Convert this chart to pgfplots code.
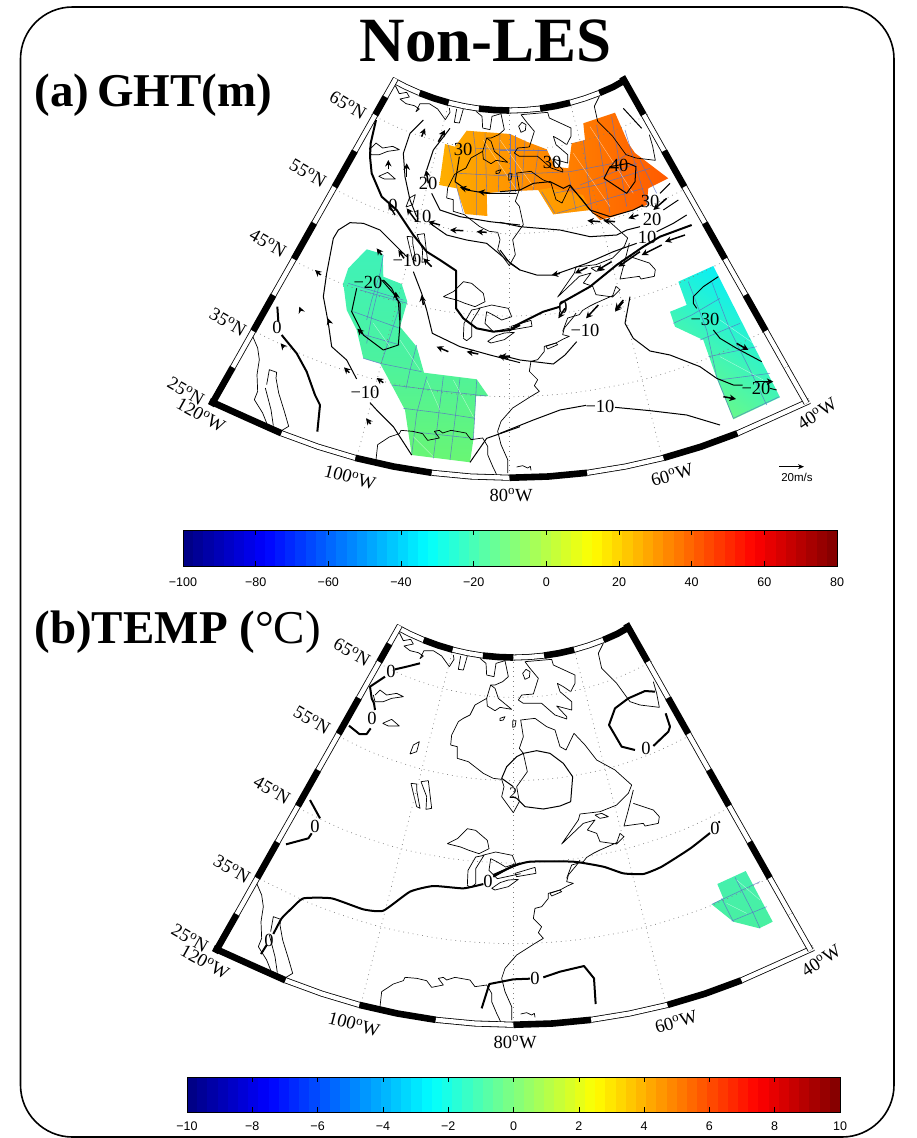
\documentclass[border=0pt]{standalone}
\usepackage{pgfplots}
\pgfplotsset{compat=1.18}
\usepackage{fontspec}
\setmainfont{Liberation Serif}
\newfontfamily\hv{Liberation Sans}
\usetikzlibrary{arrows.meta}
\pgfplotsforeachungrouped \i in {0,...,63}{%
 \pgfmathsetmacro\jv{(\i+0.5)/64}%
 \pgfmathsetmacro\jr{max(0,min(1,min(4*\jv-1.5,4.5-4*\jv)))}%
 \pgfmathsetmacro\jg{max(0,min(1,min(4*\jv-0.5,3.5-4*\jv)))}%
 \pgfmathsetmacro\jb{max(0,min(1,min(4*\jv+0.5,2.5-4*\jv)))}%
 \definecolor{jet\i}{rgb}{\jr,\jg,\jb}%
}
\definecolor{gridblue}{RGB}{90,110,200}
\definecolor{gA}{RGB}{62,242,185}
\definecolor{gB}{RGB}{75,242,160}
\definecolor{gC}{RGB}{105,246,115}
\definecolor{oA}{RGB}{255,175,0}
\definecolor{oB}{RGB}{255,125,0}
\definecolor{oC}{RGB}{255,90,0}
\definecolor{cA}{RGB}{0,238,255}
\definecolor{cB}{RGB}{110,250,130}
\definecolor{bA}{RGB}{70,240,175}
\definecolor{bB}{RGB}{72,240,160}
\def\dx{0}\def\dy{0}
\newcommand\lf{\fontsize{18.5}{20}\selectfont}
\pgfplotsset{
 zm/.style 2 args={x filter/.expression={#1+x/3+\dx}, y filter/.expression={#2+y/3+\dy}},
 mp/.style={x filter/.expression={x+\dx}, y filter/.expression={y+\dy}},
 coast/.style={black,line width=0.7pt,line join=round},
 thin c/.style={black,line width=1pt,line join=round},
 thick c/.style={black,line width=2pt,line join=round},
 grat/.style={gray,line width=0.7pt,dash pattern=on 0.8pt off 4pt},
 gl/.style={gridblue,line width=0.55pt,opacity=0.8},
 wl/.style={white,line width=0.35pt,opacity=0.6},
 vec/.style={black,line width=1.5pt,-{Stealth[length=6.5pt,width=6.5pt]}},
 bb/.style={black,line width=6.6pt},
 bo/.style={black,line width=6pt},
 wi/.style={white,line width=4.4pt},
}
\newcommand\wbar[1]{\addplot[bo,mp] coordinates {#1};\addplot[wi,mp] coordinates {#1};}
\newcommand\bbar[1]{\addplot[bb,mp] coordinates {#1};}
\newcommand\mapbase{%
 \addplot[grat,mp,smooth] coordinates {(251.4,329.7)(310.7,358.1)(376.2,379.7)(444.8,392.7)(509.5,396.7)(574.2,392.7)(642.8,379.7)(708.3,358.1)(767.6,329.7)};
 \addplot[grat,mp,smooth] coordinates {(290.7,259.2)(340.9,283.2)(396.5,301.6)(454.6,312.6)(509.5,316)(564.4,312.6)(622.5,301.6)(678.1,283.2)(728.3,259.2)};
 \addplot[grat,mp,smooth] coordinates {(330.7,187.3)(371.8,206.9)(417.1,221.9)(464.7,230.9)(509.5,233.7)(554.3,230.9)(601.9,221.9)(647.2,206.9)(688.3,187.3)};
 \addplot[grat,mp,smooth] coordinates {(371.2,114.5)(403,129.7)(438.1,141.3)(474.8,148.3)(509.5,150.4)(544.2,148.3)(580.9,141.3)(616,129.7)(647.8,114.5)};
 \addplot[grat,mp] coordinates {(449,102)(357,457)};
 \addplot[grat,mp] coordinates {(509.5,110)(509.5,477)};
 \addplot[grat,mp] coordinates {(570,102)(662,457)};
}
\newcommand\mapframe{%
 \bbar{(209.6,401.0)(245.9,417.4)(281.5,433.3)}
 \wbar{(281.5,433.3)(318.0,446.7)(355.4,457.9)}
 \bbar{(355.4,457.9)(393.4,466.5)(431.8,472.8)}
 \wbar{(431.8,472.8)(470.6,476.5)(509.5,477.75)}
 \bbar{(509.5,477.75)(548.4,476.5)(587.2,472.8)}
 \wbar{(587.2,472.8)(625.6,466.5)(663.6,457.9)}
 \bbar{(663.6,457.9)(701.0,446.7)(737.5,433.3)}
 \wbar{(737.5,433.3)(773.1,417.4)(809.4,401.0)}
 \wbar{(392.0,79.7)(405.6,86.8)(419.6,93.0)}
 \bbar{(419.6,93.0)(434.0,98.3)(448.7,102.7)}
 \wbar{(448.7,102.7)(463.7,106.1)(478.9,108.6)}
 \bbar{(478.9,108.6)(494.2,110)(509.5,110.55)}
 \wbar{(509.5,110.55)(524.8,110)(540.1,108.6)}
 \bbar{(540.1,108.6)(555.3,106.1)(570.3,102.7)}
 \wbar{(570.3,102.7)(585.0,98.3)(599.4,93.0)}
 \bbar{(599.4,93.0)(613.4,86.8)(626.5,79.3)}
 \bbar{(211.0,405.6)(232.8,367.2)}
 \wbar{(232.8,367.2)(253.2,331.0)}
 \bbar{(253.2,331.0)(273.5,295.0)}
 \wbar{(273.5,295.0)(293.9,259.0)}
 \bbar{(293.9,259.0)(314.2,223.0)}
 \wbar{(314.2,223.0)(334.6,186.9)}
 \bbar{(334.6,186.9)(354.9,150.9)}
 \wbar{(354.9,150.9)(375.3,114.8)}
 \bbar{(375.3,114.8)(385.5,96.7)}
 \wbar{(385.5,96.7)(395.7,78.7)}
 \bbar{(622.2,76.8)(643.7,114.8)}
 \wbar{(643.7,114.8)(664.1,150.9)}
 \bbar{(664.1,150.9)(684.4,186.9)}
 \wbar{(684.4,186.9)(704.8,223.0)}
 \bbar{(704.8,223.0)(725.1,259.0)}
 \wbar{(725.1,259.0)(745.5,295.0)}
 \bbar{(745.5,295.0)(765.8,331.0)}
 \wbar{(765.8,331.0)(786.2,367.2)}
 \wbar{(786.2,367.2)(806.6,403.2)}
}
\newcommand\maplabels[2]{%
 \node[font=\lf,rotate=-30] at (axis cs:#1+348,#2+105) {65\textsuperscript{o}N};
 \node[font=\lf,rotate=-30] at (axis cs:#1+308,#2+173) {55\textsuperscript{o}N};
 \node[font=\lf,rotate=-30] at (axis cs:#1+268,#2+243) {45\textsuperscript{o}N};
 \node[font=\lf,rotate=-30] at (axis cs:#1+228,#2+322) {35\textsuperscript{o}N};
 \node[font=\lf,rotate=-30] at (axis cs:#1+186,#2+391) {25\textsuperscript{o}N};
 \node[font=\lf,rotate=-29] at (axis cs:#1+201,#2+415) {120\textsuperscript{o}W};
 \node[font=\lf,rotate=-15] at (axis cs:#1+350,#2+477) {100\textsuperscript{o}W};
 \node[font=\lf] at (axis cs:#1+511,#2+495) {80\textsuperscript{o}W};
 \node[font=\lf,rotate=16] at (axis cs:#1+672,#2+475) {60\textsuperscript{o}W};
 \node[font=\lf,rotate=33] at (axis cs:#1+817,#2+414) {40\textsuperscript{o}W};
}
\newcommand\coastlines{%
 \addplot[coast,zm={200}{620}] coordinates {(598,38)(610,62)(632,58)(640,72)(612,78)(630,92)(655,98)(670,108)(660,116)(672,92)(700,92)(725,108)(748,140)(762,118)(760,105)};
 \addplot[coast,zm={200}{620}] coordinates {(782,108)(775,148)(790,150)(802,108)};
 \addplot[coast,zm={200}{620}] coordinates {(840,115)(858,130)(860,165)(882,170)(888,130)(915,122)(925,170)(908,185)(885,195)(872,195)(860,235)(825,255)(810,285)(790,295)(775,305)(755,345)(752,375)(772,380)(772,415)(805,425)(850,460)(880,475)(905,478)};
 \addplot[coast,zm={200}{620}] coordinates {(872,195)(885,205)(895,235)(935,268)(900,262)(885,272)(862,258)(860,235)};
 \addplot[coast,zm={500}{620}] coordinates {(5,478)(12,500)(5,530)(40,578)(58,545)(50,500)(82,455)(70,400)(58,385)(70,350)(62,300)(105,295)(140,320)(165,330)(180,380)(198,390)(222,340)(255,375)(290,420)(345,450)(395,495)(385,520)(350,555)(300,575)(240,582)(235,600)(185,672)(250,610)(285,600)(262,630)(290,640)(300,665)(350,672)(372,650)(360,640)(350,668)(300,690)(280,700)(260,712)(250,725)(215,735)(200,775)};
 \addplot[coast,zm={500}{620}] coordinates {(75,125)(155,118)(160,135)(225,165)(225,190)(212,215)(190,200)(172,190)(180,215)(215,245)(215,270)(170,258)(200,290)(200,297)(165,285)(125,250)(70,250)(55,240)(65,225)(100,222)(115,175)(90,145)(75,125)};
 \addplot[coast,zm={500}{620}] coordinates {(68,160)(78,148)(90,155)(88,172)(75,178)(68,160)};
 \addplot[coast,zm={500}{620}] coordinates {(310,70)(295,100)(305,145)(350,190)(390,245)(420,255)(478,262)(470,220)(460,185)};
 \addplot[coast,zm={500}{620}] coordinates {(0,295)(15,290)(10,300)(0,302)(0,295)};
 \addplot[coast,zm={500}{620}] coordinates {(38,302)(48,302)(45,320)(38,322)(38,302)};
 \addplot[coast,zm={500}{620}] coordinates {(400,510)(385,570)(372,618)(430,610)(435,618)(475,610)(478,590)(460,570)(400,550)};
 \addplot[coast,zm={500}{620}] coordinates {(285,585)(305,580)(325,590)(300,595)(285,585)};
 \addplot[coast,zm={200}{620}] coordinates {(525,225)(540,210)(560,225)(590,220)(610,230)(575,235)(550,245)(525,245)(520,225)};
 \addplot[coast,zm={200}{620}] coordinates {(548,310)(575,298)(598,318)(565,318)(548,310)};
 \addplot[coast,zm={200}{620}] coordinates {(630,402)(640,375)(658,365)(650,395)(630,402)};
 \addplot[coast,zm={200}{620}] coordinates {(633,490)(650,492)(650,510)(660,565)(650,560)(640,520)(633,490)};
 \addplot[coast,zm={200}{620}] coordinates {(663,485)(685,482)(692,540)(695,565)(678,568)(680,530)(663,485)};
 \addplot[coast,zm={204}{827}] coordinates {(730,50)(760,35)(790,5)(815,10)(850,40)(855,65)(825,80)(795,70)(770,60)(730,50)};
 \addplot[coast,zm={204}{827}] coordinates {(790,175)(792,130)(815,90)(840,85)(815,125)(815,170)(800,182)(790,175)};
 \addplot[coast,zm={204}{827}] coordinates {(835,85)(875,75)(925,85)(935,110)(905,120)(880,105)(860,95)(855,130)(880,155)(950,140)};
 \addplot[coast,zm={480}{860}] coordinates {(35,85)(60,68)(85,60)(115,58)(85,80)(45,90)(35,85)};
 \addplot[coast,zm={480}{860}] coordinates {(105,40)(165,22)(168,40)(110,50)(105,40)};
 \addplot[coast,zm={480}{860}] coordinates {(95,480)(95,440)(75,395)(65,355)(75,325)(110,285)(165,250)(190,235)(175,218)(185,200)(160,175)(165,145)(185,140)(205,115)(205,100)(240,90)(262,78)(280,70)(260,65)(265,45)(290,15)(300,0)};
 \addplot[coast,zm={480}{860}] coordinates {(210,100)(240,90)(245,95)(215,108)(210,100)};
 \addplot[coast,zm={480}{860}] coordinates {(122,462)(140,458)(155,465)(163,460)(165,472)};
 \addplot[coast,zm={160}{860}] coordinates {(660,440)(665,395)(700,372)(730,362)(735,352)(770,355)(800,362)(815,382)(850,375)(835,355)(850,352)(860,360)(885,352)(930,360)(945,380)(980,375)(995,400)(995,425)(1010,460)(1022,485)};
 \addplot[coast,zm={160}{860}] coordinates {(290,70)(305,105)(310,140)(303,185)(305,235)(295,260)(320,300)(332,330)};
 \addplot[coast,zm={160}{860}] coordinates {(332,215)(340,170)(362,178)(360,195)(368,240)(385,295)(398,340)(378,352)};
 \addplot[coast,zm={160}{860}] coordinates {(328,225)(345,290)(352,338)};
}
\begin{document}
\begin{tikzpicture}
\begin{axis}[
 width=916pt,height=1138pt,scale only axis,
 xmin=0,xmax=916,ymin=0,ymax=1138,y dir=reverse,
 hide axis,clip=false,enlargelimits=false]

\path (axis cs:0,0) rectangle (axis cs:916,1138);
\draw[black,line width=1.6pt,rounded corners=52pt] (axis cs:20.5,7) rectangle (axis cs:894,1137);

\node[font=\bfseries\fontsize{63}{63}\selectfont] at (axis cs:486,41) {Non-LES};
\node[anchor=west,font=\bfseries\fontsize{47}{47}\selectfont] at (axis cs:31,95) {(a)\,GHT(m)};
\node[anchor=west,font=\fontsize{47}{47}\selectfont] at (axis cs:31,632) {\textbf{(b)TEMP (}°C)};

% panel (a) fields
\def\dx{0}\def\dy{0}
\addplot[draw=none,top color=gA,bottom color=gC,middle color=gB] coordinates {(366.7,249.3)(382.7,254)(383.3,276.7)(401.7,284)(407.3,301.7)(400,326.7)(416.7,346.7)(424,372.7)(476.7,379.3)(488.3,396)(476,396)(473.3,440)(470,462.3)(411.7,455)(405,410)(391.7,385)(380,363.3)(363.3,358.3)(356.7,330)(346.7,310)(343.3,283.3)(348.3,268.3)} --cycle;
\addplot[draw=none,left color=oA,middle color=oB,right color=oC] coordinates {(445,144)(455,146.7)(466.7,130.7)(510,134)(526.7,141.7)(546.7,149.3)(555,166.7)(568.3,168.3)(571.7,143.3)(585,140)(583.3,123.3)(615,112.7)(628.3,143.3)(635,153)(668.3,178.3)(648.3,188.3)(646.7,205)(613,216.7)(600,220)(590,210)(553.3,214.3)(538.3,190)(500,191.7)(486.7,193.3)(487.3,216)(465,214)(456.7,188.3)(439.3,185)} --cycle;
\addplot[draw=none,fill=oA,fill opacity=0.55] coordinates {(538.3,190)(553.3,214.3)(590,210)(583,195)(550,188)} --cycle;
\addplot[draw=none,bottom color=cB,top color=cA,shading angle=-35] coordinates {(713.3,266)(678.3,281.7)(686.7,305)(670,311.7)(675,326.7)(703.3,340)(716.7,378.3)(733.3,419.3)(780,397.3)} --cycle;

\addplot[gl,zm={200}{280}] coordinates {(540,5)(515,110)(500,190)};
\addplot[gl,zm={200}{280}] coordinates {(600,75)(570,170)(545,245)};
\addplot[gl,zm={200}{280}] coordinates {(650,195)(630,270)(618,325)};
\addplot[gl,zm={200}{280}] coordinates {(680,290)(650,400)(635,525)};
\addplot[gl,zm={200}{280}] coordinates {(730,290)(700,535)};
\addplot[gl,zm={200}{280}] coordinates {(780,295)(750,540)};
\addplot[gl,zm={200}{280}] coordinates {(830,300)(820,480)};
\addplot[gl,zm={200}{280}] coordinates {(480,30)(622,70)};
\addplot[gl,zm={200}{280}] coordinates {(460,95)(600,145)};
\addplot[gl,zm={200}{280}] coordinates {(478,160)(600,195)};
\addplot[gl,zm={200}{280}] coordinates {(490,235)(540,250)(665,275)};
\addplot[gl,zm={200}{280}] coordinates {(575,315)(700,330)(860,348)};
\addplot[gl,zm={200}{280}] coordinates {(610,385)(730,400)(825,415)};
\addplot[gl,zm={200}{280}] coordinates {(635,455)(820,475)};
\addplot[gl,zm={200}{60}] coordinates {(550,585)(540,640)(515,720)(500,780)};
\addplot[gl,zm={200}{60}] coordinates {(445,670)(610,720)};
\addplot[wl,zm={200}{280}] coordinates {(600,180)(660,270)};
\addplot[wl,zm={200}{280}] coordinates {(680,300)(720,390)};
\addplot[wl,zm={200}{280}] coordinates {(760,300)(820,410)};
\addplot[wl,zm={200}{280}] coordinates {(640,470)(700,530)};
\addplot[wl,zm={200}{280}] coordinates {(520,130)(570,200)};
\addplot[gl,zm={200}{60}] coordinates {(745,255)(770,380)(790,460)};
\addplot[gl,zm={200}{60}] coordinates {(820,215)(830,300)(830,465)};
\addplot[gl,zm={200}{60}] coordinates {(855,220)(860,395)};
\addplot[gl,zm={200}{60}] coordinates {(900,225)(895,395)};
\addplot[gl,zm={200}{60}] coordinates {(945,225)(945,395)};
\addplot[gl,zm={200}{60}] coordinates {(775,340)(870,345)(960,350)};
\addplot[gl,zm={200}{60}] coordinates {(830,265)(960,270)};
\addplot[gl,zm={500}{60}] coordinates {(30,222)(30,395)};
\addplot[gl,zm={500}{60}] coordinates {(75,240)(65,395)};
\addplot[gl,zm={500}{60}] coordinates {(115,270)(100,390)};
\addplot[gl,zm={500}{60}] coordinates {(125,395)(165,460)};
\addplot[gl,zm={500}{60}] coordinates {(205,340)(228,450)};
\addplot[gl,zm={500}{60}] coordinates {(250,240)(275,450)};
\addplot[gl,zm={500}{60}] coordinates {(290,195)(330,460)};
\addplot[gl,zm={500}{60}] coordinates {(335,170)(380,440)};
\addplot[gl,zm={500}{60}] coordinates {(375,210)(440,430)};
\addplot[gl,zm={500}{60}] coordinates {(420,300)(470,400)};
\addplot[gl,zm={500}{60}] coordinates {(0,270)(140,270)};
\addplot[gl,zm={500}{60}] coordinates {(0,345)(210,335)(340,310)(385,280)};
\addplot[gl,zm={500}{60}] coordinates {(240,375)(410,310)};
\addplot[gl,zm={500}{60}] coordinates {(160,400)(290,375)(450,325)};
\addplot[gl,zm={500}{60}] coordinates {(170,460)(430,385)};
\addplot[wl,zm={500}{60}] coordinates {(270,200)(400,400)};
\addplot[wl,zm={500}{60}] coordinates {(220,280)(330,440)};
\addplot[wl,zm={200}{60}] coordinates {(850,240)(950,390)};
\addplot[wl,zm={500}{60}] coordinates {(0,240)(100,380)};
\addplot[gl,zm={500}{280}] coordinates {(565,5)(620,150)(650,290)(700,415)};
\addplot[gl,zm={500}{280}] coordinates {(635,5)(690,150)(750,270)(800,375)};
\addplot[gl,zm={500}{280}] coordinates {(660,55)(575,105)(520,130)};
\addplot[gl,zm={500}{280}] coordinates {(720,130)(600,180)};
\addplot[gl,zm={500}{280}] coordinates {(770,200)(625,230)};
\addplot[gl,zm={500}{280}] coordinates {(810,280)(655,300)};
\addplot[gl,zm={500}{280}] coordinates {(838,350)(700,415)};
\addplot[wl,zm={500}{280}] coordinates {(660,120)(760,190)};
\addplot[wl,zm={500}{280}] coordinates {(660,230)(790,300)};

\def\dx{-4}\def\dy{-547}
\coastlines
\def\dx{0}\def\dy{0}
\mapbase
\maplabels{0}{0}

\addplot[thick c,zm={200}{60}] coordinates {(528,180)(512,250)(510,290)(515,340)(545,410)(590,450)(640,525)(680,575)(720,600)(768,632)(768,745)(790,775)(830,805)(880,815)(930,810)(960,795)};
\addplot[thick c,zm={500}{280}] coordinates {(40,140)(50,135)(130,95)(180,80)};
\addplot[thick c,zm={500}{60}] coordinates {(180,732)(190,725)(270,680)(350,615)(430,560)(480,530)(575,495)};
\addplot[thick c,zm={200}{280}] coordinates {(232,80)(235,125)};
\addplot[thick c,zm={200}{280}] coordinates {(245,165)(290,220)(320,275)(345,345)(360,375)(352,455)};
\addplot[thin c,zm={200}{60}] coordinates {(620,590)(590,560)(540,510)(490,490)(450,488)(415,510)(400,535)(380,640)(370,710)(372,720)(385,790)(395,860)(440,900)(470,957)};
\addplot[thin c,zm={200}{60}] coordinates {(640,635)(665,700)(680,750)(697,820)(780,860)(870,885)(960,908)};
\addplot[thin c,zm={500}{280}] coordinates {(0,225)(60,240)(160,252)(195,225)(230,185)};
\addplot[thin c,zm={200}{280}] coordinates {(510,368)(530,390)(580,440)(635,525)};
\addplot[thin c,zm={200}{280}] coordinates {(810,547)(860,475)(960,440)};
\addplot[thin c,zm={500}{280}] coordinates {(0,460)(100,420)(180,390)(258,376)};
\addplot[thin c,zm={500}{280}] coordinates {(345,382)(450,392)(560,405)(610,420)(660,435)};
\addplot[thin c,zm={500}{280}] coordinates {(390,50)(375,130)(400,175)(450,213)(510,225)(600,260)(650,295)(700,315)(728,315)};
\addplot[thin c,zm={500}{280}] coordinates {(810,325)(830,330)};
\addplot[thin c,zm={500}{60}] coordinates {(655,650)(610,680)(580,710)(580,730)(590,745)};
\addplot[thin c,zm={500}{280}] coordinates {(640,150)(660,175)(710,205)(785,245)};
\addplot[thin c,zm={200}{280}] coordinates {(470,25)(455,95)(490,165)(550,210)(595,195)(600,130)(595,65)(575,25)(550,0)};
\addplot[thin c,zm={200}{60}] coordinates {(545,660)(580,700)(600,730)(600,780)};
\addplot[thin c,zm={200}{60}] coordinates {(670,180)(630,220)(610,280)(615,350)(630,420)(650,470)};
\addplot[thin c,zm={200}{60}] coordinates {(690,490)(740,525)(800,540)(860,550)(920,600)(960,630)};
\addplot[thin c,zm={500}{60}] coordinates {(0,570)(30,610)(60,630)(110,645)(160,645)(260,610)(340,575)(410,550)};
\addplot[thin c,zm={500}{60}] coordinates {(470,515)(520,490)(560,465)};
\addplot[thin c,zm={200}{60}] coordinates {(750,205)(700,270)(680,330)};
\addplot[thin c,zm={200}{60}] coordinates {(695,400)(720,450)(780,470)(870,485)(960,495)};
\addplot[thin c,zm={500}{60}] coordinates {(0,487)(60,500)(180,510)(270,530)(350,525)(380,510)(420,500)};
\addplot[thin c,zm={500}{60}] coordinates {(490,450)(535,420)};
\addplot[thin c,zm={200}{60}] coordinates {(778,290)(770,340)(765,365)(800,390)(860,400)(950,400)};
\addplot[thin c,zm={500}{60}] coordinates {(0,395)(60,390)(100,370)(150,365)(190,385)(210,375)(270,450)(330,470)(400,450)(430,435)};
\addplot[thin c,zm={500}{60}] coordinates {(480,400)(510,370)};
\addplot[thin c,zm={500}{60}] coordinates {(370,145)(425,205)};
\addplot[thin c,zm={500}{60}] coordinates {(330,320)(312,355)(380,400)(405,365)(408,320)(385,310)(330,320)};

\addplot[vec,zm={200}{60}] coordinates {(665,230)(675,205)};
\addplot[vec,zm={200}{60}] coordinates {(565,328)(565,300)};
\addplot[vec,zm={200}{60}] coordinates {(620,350)(620,310)};
\addplot[vec,zm={200}{60}] coordinates {(685,370)(678,330)};
\addplot[vec,zm={200}{60}] coordinates {(715,245)(735,210)};
\addplot[vec,zm={200}{60}] coordinates {(810,390)(780,382)};
\addplot[vec,zm={200}{60}] coordinates {(870,400)(835,395)};
\addplot[vec,zm={200}{60}] coordinates {(720,495)(685,485)};
\addplot[vec,zm={200}{60}] coordinates {(790,512)(750,510)};
\addplot[vec,zm={200}{60}] coordinates {(860,517)(830,515)};
\addplot[vec,zm={200}{60}] coordinates {(585,465)(565,430)};
\addplot[vec,zm={200}{60}] coordinates {(650,485)(620,445)};
\addplot[vec,zm={200}{60}] coordinates {(695,620)(670,595)};
\addplot[vec,zm={200}{60}] coordinates {(612,595)(595,570)};
\addplot[vec,zm={200}{60}] coordinates {(545,585)(530,565)};
\addplot[vec,zm={200}{60}] coordinates {(590,720)(587,695)};
\addplot[vec,zm={200}{60}] coordinates {(670,735)(665,705)};
\addplot[vec,zm={200}{60}] coordinates {(362,645)(345,630)};
\addplot[vec,zm={200}{280}] coordinates {(302,90)(298,80)};
\addplot[vec,zm={200}{280}] coordinates {(252,202)(242,190)};
\addplot[vec,zm={200}{280}] coordinates {(388,128)(384,115)};
\addplot[vec,zm={200}{280}] coordinates {(448,278)(432,262)};
\addplot[vec,zm={200}{280}] coordinates {(488,162)(472,146)};
\addplot[vec,zm={200}{280}] coordinates {(550,308)(530,294)};
\addplot[vec,zm={200}{280}] coordinates {(512,432)(498,415)};
\addplot[vec,zm={200}{280}] coordinates {(745,215)(710,200)};
\addplot[vec,zm={200}{280}] coordinates {(835,222)(800,215)};
\addplot[vec,zm={200}{280}] coordinates {(925,235)(895,228)};
\addplot[vec,zm={500}{60}] coordinates {(300,485)(262,482)};
\addplot[vec,zm={500}{60}] coordinates {(345,485)(310,482)};
\addplot[vec,zm={500}{60}] coordinates {(415,465)(385,475)};
\addplot[vec,zm={500}{60}] coordinates {(500,415)(460,450)};
\addplot[vec,zm={500}{60}] coordinates {(555,525)(495,545)};
\addplot[vec,zm={500}{60}] coordinates {(485,555)(425,585)};
\addplot[vec,zm={500}{60}] coordinates {(420,575)(355,620)};
\addplot[vec,zm={500}{60}] coordinates {(335,605)(290,632)};
\addplot[vec,zm={500}{60}] coordinates {(262,622)(225,640)};
\addplot[vec,zm={500}{60}] coordinates {(180,640)(155,645)};
\addplot[vec,zm={500}{60}] coordinates {(370,720)(345,750)};
\addplot[vec,zm={500}{60}] coordinates {(295,735)(258,775)};
\addplot[vec,zm={500}{280}] coordinates {(370,65)(345,95)};
\addplot[vec,zm={500}{280}] coordinates {(195,85)(175,115)};
\addplot[vec,zm={500}{280}] coordinates {(30,228)(0,230)};
\addplot[vec,zm={500}{280}] coordinates {(710,190)(745,210)};
\addplot[vec,zm={500}{280}] coordinates {(765,305)(820,305)};
\addplot[vec,zm={500}{280}] coordinates {(670,350)(708,357)};
\addplot[black,line width=0.9pt,-{Stealth[length=6pt,width=5pt]},zm={500}{280}] coordinates {(838,560)(912,560)};
\node[font=\hv\fontsize{11.5}{12}\selectfont] at (axis cs:797,477) {20m/s};

\node[font=\lf] at (axis cs:463,149) {30};
\node[font=\lf] at (axis cs:428,183) {20};
\node[font=\lf] at (axis cs:422,216) {10};
\node[font=\lf] at (axis cs:393,205) {0};
\node[font=\lf] at (axis cs:407,260) {−10};
\node[font=\lf] at (axis cs:368,282) {−20};
\node[font=\lf] at (axis cs:277,327) {0};
\node[font=\lf] at (axis cs:365,392) {−10};
\node[font=\lf] at (axis cs:552,162) {30};
\node[font=\lf] at (axis cs:619,165) {40};
\node[font=\lf] at (axis cs:650,201) {30};
\node[font=\lf] at (axis cs:652,219) {20};
\node[font=\lf] at (axis cs:647,237) {10};
\node[font=\lf] at (axis cs:563,307) {0};
\node[font=\lf] at (axis cs:585,330) {−10};
\node[font=\lf] at (axis cs:705,319) {−30};
\node[font=\lf] at (axis cs:756,388) {−20};
\node[font=\lf] at (axis cs:600,406) {−10};

\pgfplotsinvokeforeach{0,...,63}{
 \pgfmathsetmacro\xa{183+#1*10.21875}
 \pgfmathsetmacro\xb{\xa+10.5}
 \addplot[draw=none,fill=jet#1] coordinates {(\xa,530)(\xb,530)(\xb,566)(\xa,566)} --cycle;
}
\addplot[black,line width=1pt] coordinates {(183,530)(837,530)(837,566)(183,566)} --cycle;
\foreach \v/\t in {183/−100,255.67/−80,328.33/−60,401/−40,473.67/−20,546.33/0,619/20,691.67/40,764.33/60,837/80}{
 \edef\tmp{\noexpand\draw[black,line width=0.6pt] (axis cs:\v,530) -- (axis cs:\v,535) (axis cs:\v,561) -- (axis cs:\v,566);
 \noexpand\node[font=\noexpand\hv\noexpand\fontsize{12.5}{13}\noexpand\selectfont] at (axis cs:\v,582) {\t};}\tmp
}

% panel (b)
\def\dx{0}\def\dy{0}
\addplot[draw=none,top color=bA,bottom color=bB] coordinates {(711.7,904.3)(723.3,898.3)(717.3,884)(745.7,871)(772.7,921.7)(759.3,928.3)(733.3,921.7)} --cycle;
\addplot[gl,zm={480}{860}] coordinates {(765,52)(820,160)(840,205)};
\addplot[gl,zm={480}{860}] coordinates {(725,115)(760,185)};
\addplot[gl,zm={480}{860}] coordinates {(695,133)(840,65)};
\addplot[gl,zm={480}{860}] coordinates {(755,183)(860,140)};
\addplot[wl,zm={480}{860}] coordinates {(770,60)(840,120)};
\addplot[wl,zm={480}{860}] coordinates {(740,130)(800,160)};

\coastlines
\def\dx{4}\def\dy{547}
\mapbase
\mapframe
\maplabels{4}{547}
\def\dx{0}\def\dy{0}

\addplot[thick c,zm={200}{620}] coordinates {(660,130)(620,140)(585,148)};
\addplot[thick c,zm={200}{620}] coordinates {(555,170)(510,200)(515,235)(522,250)(525,270)};
\addplot[thick c,zm={200}{620}] coordinates {(512,325)(500,342)(478,342)(447,317)};
\addplot[thick c,zm={200}{620}] coordinates {(330,540)(360,595)};
\addplot[thick c,zm={200}{620}] coordinates {(335,640)(325,655)(258,673)};
\addplot[thick c,zm={500}{620}] coordinates {(465,215)(435,213)(385,235)(345,265)(327,315)(365,380)(405,390)};
\addplot[thick c,zm={500}{620}] coordinates {(460,378)(505,335)(510,320)(497,280)};
\addplot[thin c,zm={500}{620}] coordinates {(40,500)(5,475)(20,440)(50,410)(70,400)(110,392)(150,400)(190,430)(218,470)(212,545)(180,558)(130,567)(75,560)(50,535)(35,530)};
\addplot[thick c,zm={160}{860}] coordinates {(303,282)(320,255)};
\addplot[thick c,zm={160}{860},smooth,tension=0.3] coordinates {(340,222)(365,175)(395,145)(430,115)(515,115)(610,148)(670,152)(750,95)(820,78)(910,85)(970,72)};
\addplot[thick c,zm={160}{860}] coordinates {(1000,45)(1080,10)};
\addplot[thick c,zm={480}{860},smooth,tension=0.3] coordinates {(40,50)(95,20)(150,5)(280,5)(370,20)(430,40)(490,42)(545,20)(630,-34)(690,-81)};
\addplot[thick c,zm={500}{620}] coordinates {(655,607)(660,605)};
\addplot[thick c,zm={480}{860}] coordinates {(5,445)(28,372)(100,358)(150,356)};
\addplot[thick c,zm={480}{860}] coordinates {(190,352)(240,335)(312,318)(342,355)(347,432)};
\node[font=\lf] at (axis cs:391,671) {0};
\node[font=\lf] at (axis cs:372,718) {0};
\node[font=\lf] at (axis cs:315,826) {0};
\node[font=\lf] at (axis cs:646,748) {0};
\node[font=\lf] at (axis cs:715,828) {0};
\node[font=\lf] at (axis cs:269,940) {0};
\node[font=\lf] at (axis cs:488,881) {0};
\node[font=\lf] at (axis cs:535,978) {0};
\node[font=\fontsize{16}{17}\selectfont] at (axis cs:513,793) {2};

\pgfplotsinvokeforeach{0,...,63}{
 \pgfmathsetmacro\xa{187+#1*10.203}
 \pgfmathsetmacro\xb{\xa+10.5}
 \addplot[draw=none,fill=jet#1] coordinates {(\xa,1077)(\xb,1077)(\xb,1112)(\xa,1112)} --cycle;
}
\addplot[black,line width=1pt] coordinates {(187,1077)(840,1077)(840,1112)(187,1112)} --cycle;
\foreach \v/\t in {187/−10,252.3/−8,317.6/−6,382.9/−4,448.2/−2,513.5/0,578.8/2,644.1/4,709.4/6,774.7/8,840/10}{
 \edef\tmp{\noexpand\draw[black,line width=0.6pt] (axis cs:\v,1077) -- (axis cs:\v,1082) (axis cs:\v,1107) -- (axis cs:\v,1112);
 \noexpand\node[font=\noexpand\hv\noexpand\fontsize{12.5}{13}\noexpand\selectfont] at (axis cs:\v,1126) {\t};}\tmp
}

\def\dx{0}\def\dy{0}
\mapframe
\end{axis}
\end{tikzpicture}
\end{document}
